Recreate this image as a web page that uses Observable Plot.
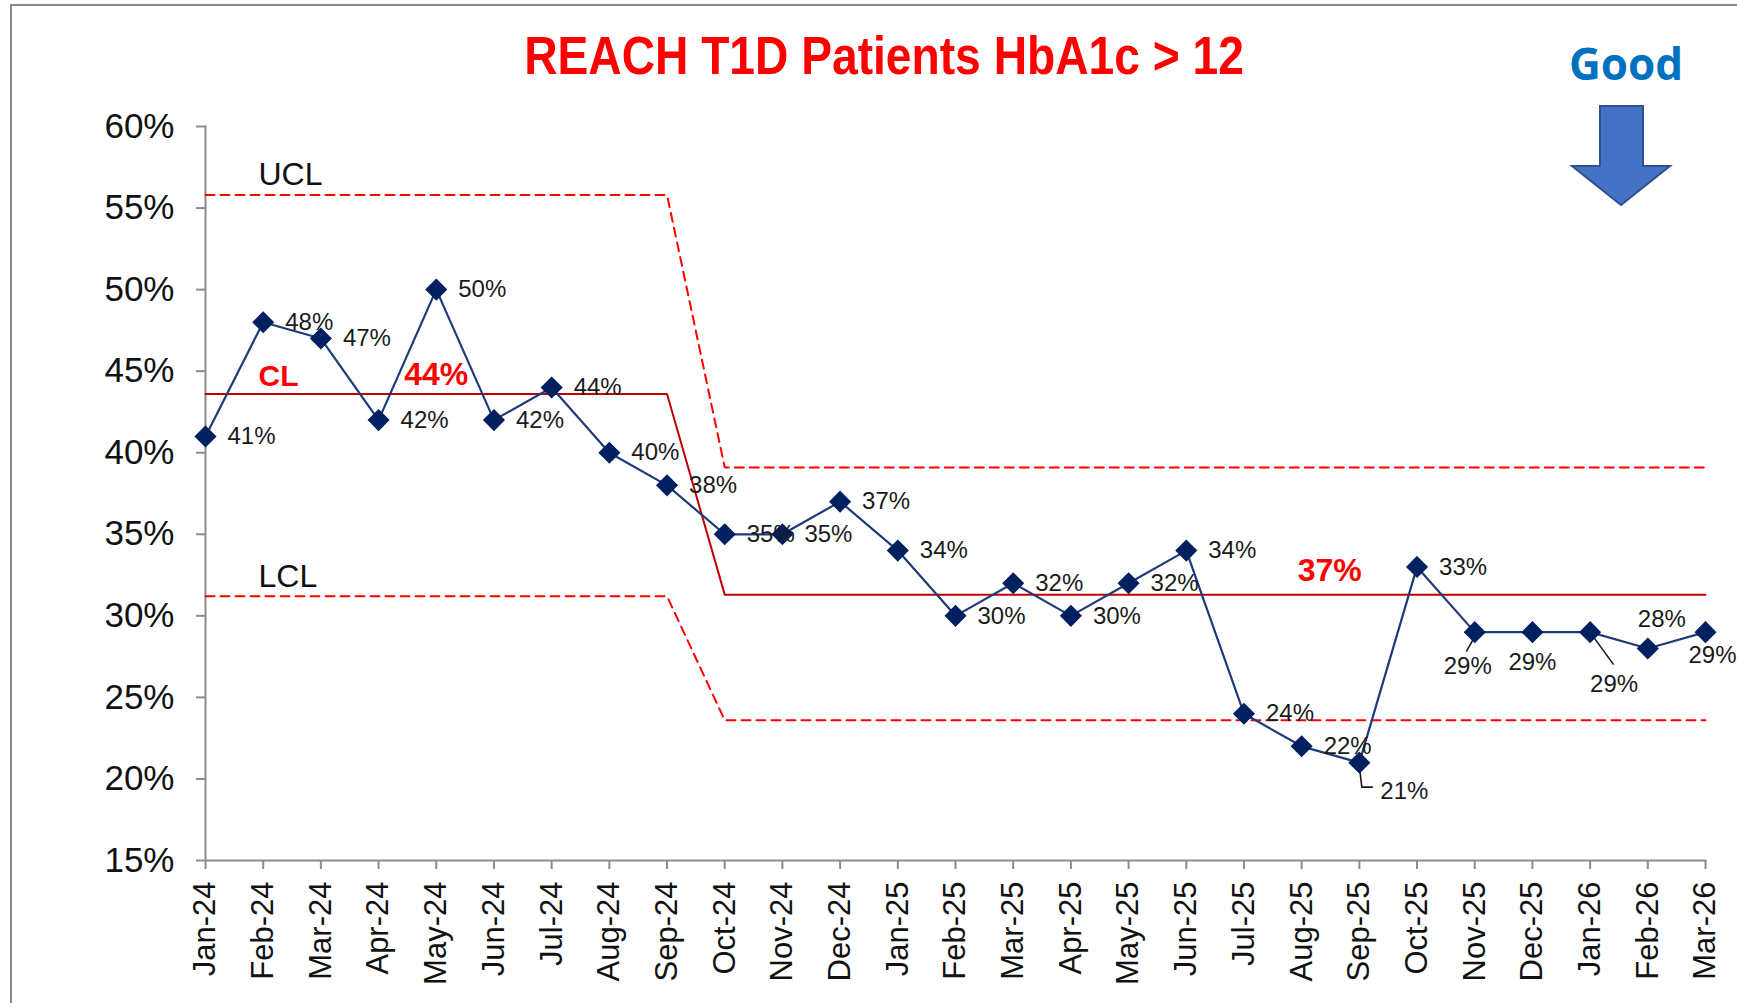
<!DOCTYPE html>
<html><head><meta charset="utf-8">
<script src="https://cdn.jsdelivr.net/npm/d3@7"></script>
<script src="https://cdn.jsdelivr.net/npm/@observablehq/plot@0.6"></script>
<style>
html,body{margin:0;padding:0;background:#fff;}
#wrap{position:relative;width:1737px;height:1003px;overflow:hidden;background:#fff;}
#border{position:absolute;left:10px;top:4px;width:1800px;height:1100px;border-left:2px solid #8a8a8a;border-top:2px solid #8a8a8a;}
#title{position:absolute;left:0;top:25px;width:1768px;text-align:center;font:bold 54px "Liberation Sans Narrow","Arial Narrow","Liberation Sans",sans-serif;color:#ff0000;line-height:60px;transform:scaleX(0.855);transform-origin:884px 0;}
#good{position:absolute;left:1526px;top:36px;width:200px;text-align:center;font:bold 44px "Open Sans",sans-serif;color:#0070c0;line-height:54px;}
#arrow{position:absolute;left:1560px;top:100px;}
#chart{position:absolute;left:0;top:0;}
</style></head>
<body>
<div id="wrap">
<div id="border"></div>
<div id="chart"></div>
<div id="title">REACH T1D Patients HbA1c &gt; 12</div>
<div id="good">Good</div>
<svg id="arrow" width="120" height="110" viewBox="1560 100 120 110">
<path d="M1600,106 L1643,106 L1643,166 L1670,166 L1621,205 L1572,166 L1600,166 Z" fill="#4472c4" stroke="#2f528f" stroke-width="2"/>
</svg>
</div>
<script>
const months = ["Jan-24","Feb-24","Mar-24","Apr-24","May-24","Jun-24","Jul-24","Aug-24","Sep-24","Oct-24","Nov-24","Dec-24",
  "Jan-25","Feb-25","Mar-25","Apr-25","May-25","Jun-25","Jul-25","Aug-25","Sep-25","Oct-25","Nov-25","Dec-25",
  "Jan-26","Feb-26","Mar-26"];
const percent = [41,48,47,42,50,42,44,40,38,35,35,37,34,30,32,30,32,34,24,22,21,33,29,29,29,28,29];
const ucl = [55.8,55.8,55.8,55.8,55.8,55.8,55.8,55.8,55.8,39.1,39.1,39.1,39.1,39.1,39.1,39.1,39.1,39.1,39.1,39.1,39.1,39.1,39.1,39.1,39.1,39.1,39.1];
const cl  = [43.6,43.6,43.6,43.6,43.6,43.6,43.6,43.6,43.6,31.3,31.3,31.3,31.3,31.3,31.3,31.3,31.3,31.3,31.3,31.3,31.3,31.3,31.3,31.3,31.3,31.3,31.3];
const lcl = [31.2,31.2,31.2,31.2,31.2,31.2,31.2,31.2,31.2,23.6,23.6,23.6,23.6,23.6,23.6,23.6,23.6,23.6,23.6,23.6,23.6,23.6,23.6,23.6,23.6,23.6,23.6];
const yTicks = [15,20,25,30,35,40,45,50,55,60];
const clLabels = ["44%","37%"];

const rows = months.map((m,i)=>({month:m, value:percent[i], ucl:ucl[i], cl:cl[i], lcl:lcl[i]}));

// label placement (pixel offsets relative to the point)
const special = {
  "Sep-25":{dx:21,dy:29,anchor:"start"},
  "Nov-25":{dx:-7,dy:34,anchor:"middle"},
  "Dec-25":{dx:0,dy:30,anchor:"middle"},
  "Jan-26":{dx:24,dy:52,anchor:"middle"},
  "Feb-26":{dx:14,dy:-29,anchor:"middle"},
  "Mar-26":{dx:7,dy:23,anchor:"middle"}
};
const leaders = {
  "Sep-25":[[0,0],[3,25],[14,25]],
  "Nov-25":[[0,6],[-8,20]],
  "Jan-26":[[0,0],[24,33]]
};

const labelFont = "Liberation Sans, Arial, sans-serif";
const narrowFont = "Liberation Sans Narrow, Arial Narrow, Liberation Sans, sans-serif";

const labelMarks = [
  Plot.text(rows.filter(d=>!special[d.month]), {x:"month", y:"value", text:d=>d.value+"%", dx:22, textAnchor:"start", fontSize:24, fill:"#1a1a1a", fontFamily:labelFont}),
  ...Object.entries(special).map(([m,p]) => Plot.text(rows.filter(d=>d.month===m), {x:"month", y:"value", text:d=>d.value+"%", dx:p.dx, dy:p.dy, textAnchor:p.anchor, fontSize:24, fill:"#1a1a1a", fontFamily:labelFont}))
];

const leaderMark = (index, scales) => {
  const g = d3.create("svg:g").attr("stroke","#1a1a1a").attr("fill","none").attr("stroke-width",1.6);
  for (const [m, pts] of Object.entries(leaders)) {
    const r = rows.find(d=>d.month===m);
    const x0 = scales.x(m), y0 = scales.y(r.value);
    g.append("path").attr("d", d3.line()(pts.map(([a,b])=>[x0+a,y0+b])));
  }
  return g.node();
};

const chart = Plot.plot({
  width: 1737,
  height: 1003,
  marginLeft: 205,
  marginRight: 32,
  marginTop: 126,
  marginBottom: 143,
  inset: 0,
  style: {background:"transparent", overflow:"visible"},
  x: {type:"point", domain: months, padding: 0, inset: 0, insetLeft: 0, insetRight: 0, round: false, label: null},
  y: {domain:[15,60], label:null},
  marks: [
    Plot.frame({anchor:"left", stroke:"#8c8c8c", strokeWidth:2}),
    Plot.frame({anchor:"bottom", stroke:"#8c8c8c", strokeWidth:2}),
    Plot.axisY({ticks: yTicks, tickFormat: d=>d+"%", tickSize:9, tickPadding:22, fontSize:35, stroke:"#8c8c8c", strokeWidth:2, fill:"#111", fontFamily:narrowFont, label:null}),
    Plot.axisX({tickRotate:-90, tickSize:9, tickPadding:12, fontSize:31, stroke:"#8c8c8c", strokeWidth:2, fill:"#111", fontFamily:labelFont, label:null}),
    Plot.line(rows, {x:"month", y:"ucl", stroke:"#ff0000", strokeWidth:2, strokeDasharray:"9,6"}),
    Plot.line(rows, {x:"month", y:"lcl", stroke:"#ff0000", strokeWidth:2, strokeDasharray:"9,6"}),
    Plot.line(rows, {x:"month", y:"cl", stroke:"#c00000", strokeWidth:2}),
    Plot.text([rows[0]], {x:"month", y:"ucl", text:()=>"UCL", dx:53, dy:-20, textAnchor:"start", fontSize:32, fill:"#111", fontFamily:narrowFont}),
    Plot.text([rows[0]], {x:"month", y:"lcl", text:()=>"LCL", dx:53, dy:-20, textAnchor:"start", fontSize:32, fill:"#111", fontFamily:narrowFont}),
    Plot.text([rows[0]], {x:"month", y:"cl", text:()=>"CL", dx:53, dy:-18, textAnchor:"start", fontSize:30, fontWeight:"bold", fill:"#ff0000", fontFamily:labelFont}),
    Plot.text([rows[4]], {x:"month", y:"cl", text:()=>clLabels[0], dy:-19, textAnchor:"middle", fontSize:32, fontWeight:"bold", fill:"#ff0000", fontFamily:labelFont}),
    Plot.text([rows[19]], {x:"month", y:"cl", text:()=>clLabels[1], dx:28, dy:-24, textAnchor:"middle", fontSize:32, fontWeight:"bold", fill:"#ff0000", fontFamily:labelFont}),
    Plot.line(rows, {x:"month", y:"value", stroke:"#1f3a7a", strokeWidth:2.2}),
    leaderMark,
    Plot.dot(rows, {x:"month", y:"value", symbol:"diamond2", r:9, fill:"#002060", stroke:"#002060"}),
    ...labelMarks
  ]
});
document.getElementById("chart").appendChild(chart);
</script>
</body></html>
